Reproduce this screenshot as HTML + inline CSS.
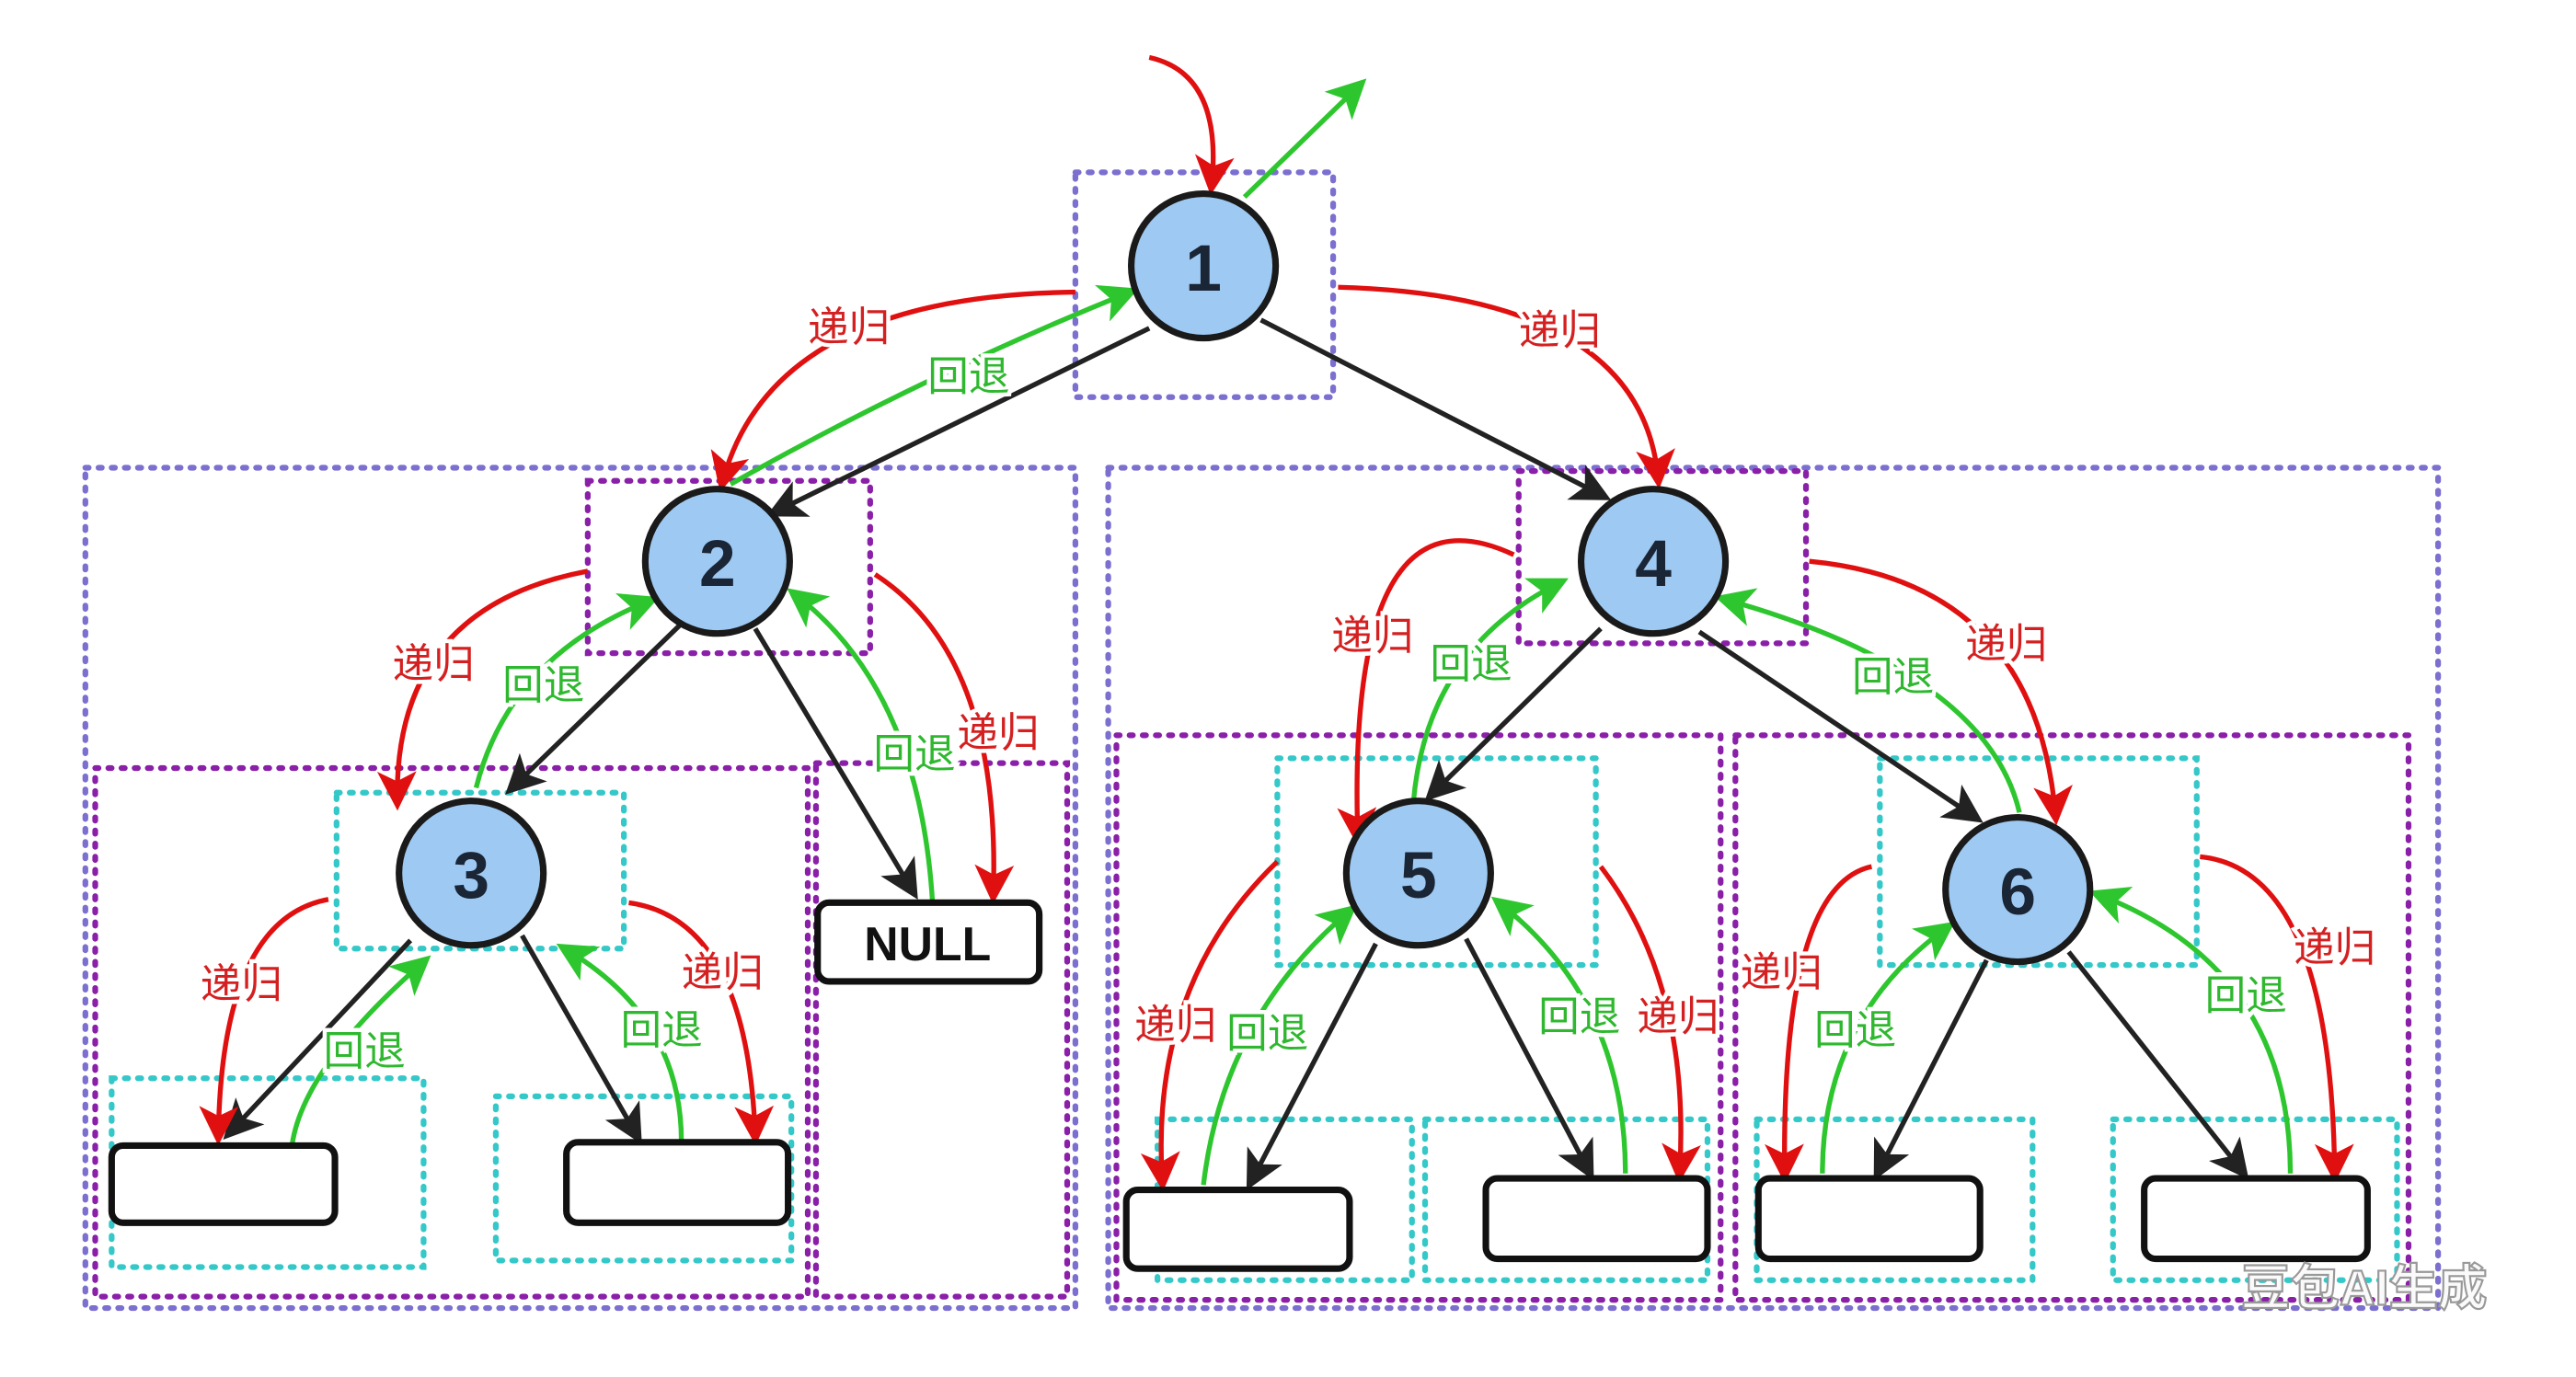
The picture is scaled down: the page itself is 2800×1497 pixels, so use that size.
<!DOCTYPE html>
<html><head><meta charset="utf-8"><style>
html,body{margin:0;padding:0;background:#fff;}
svg{display:block}
.lb{font-family:"Liberation Sans","Noto Sans CJK SC",sans-serif;font-size:25px;paint-order:stroke;stroke:#fff;stroke-width:5px;text-anchor:middle}
.r{fill:#d42020}.g{fill:#2fb82f}
.num{font-family:"Liberation Sans",sans-serif;font-weight:bold;font-size:40px;fill:#1a2535;text-anchor:middle}
</style></head><body>
<svg width="2800" height="1497" viewBox="0 0 1569 839" preserveAspectRatio="none" xmlns="http://www.w3.org/2000/svg">
<defs>
<marker id="ab" markerWidth="8" markerHeight="8" refX="6" refY="4" orient="auto" markerUnits="strokeWidth"><path d="M0,0 L8,4 L0,8 L2,4 z" fill="#222"/></marker>
<marker id="ar" markerWidth="8" markerHeight="8" refX="6" refY="4" orient="auto" markerUnits="strokeWidth"><path d="M0,0 L8,4 L0,8 L2,4 z" fill="#e01010"/></marker>
<marker id="ag" markerWidth="8" markerHeight="8" refX="6" refY="4" orient="auto" markerUnits="strokeWidth"><path d="M0,0 L8,4 L0,8 L2,4 z" fill="#2ec62e"/></marker>
</defs>
<g fill="none" stroke-width="3.5" stroke-dasharray="2 6" stroke-linecap="round">
<rect x="655" y="105" width="157" height="137" stroke="#7b6fd0"/>
<rect x="52" y="285" width="603" height="512" stroke="#7b6fd0"/>
<rect x="675" y="285" width="810" height="512" stroke="#7b6fd0"/>
<rect x="358" y="293" width="172" height="105" stroke="#8a1fa8"/>
<rect x="925" y="287" width="175" height="105" stroke="#8a1fa8"/>
<rect x="58" y="468" width="434" height="322" stroke="#8a1fa8"/>
<rect x="497" y="465" width="153" height="325" stroke="#8a1fa8"/>
<rect x="680" y="448" width="368" height="344" stroke="#8a1fa8"/>
<rect x="1057" y="448" width="410" height="344" stroke="#8a1fa8"/>
<g stroke="#35c8c8">
<rect x="205" y="483" width="175" height="95"/>
<rect x="68" y="657" width="190" height="115"/>
<rect x="302" y="668" width="180" height="100"/>
<rect x="778" y="462" width="194" height="126"/>
<rect x="1145" y="462" width="193" height="126"/>
<rect x="705" y="682" width="155" height="98"/>
<rect x="868" y="682" width="172" height="98"/>
<rect x="1070" y="682" width="168" height="98"/>
<rect x="1287" y="682" width="173" height="98"/>
</g></g>
<g stroke="#222" stroke-width="3" fill="none" marker-end="url(#ab)">
<path d="M700,200 L472,312"/><path d="M768,195 L976,302"/>
<path d="M415,380 L312,480"/><path d="M460,383 L556,543"/>
<path d="M250,573 L140,690"/><path d="M318,570 L388,692"/>
<path d="M975,383 L872,484"/><path d="M1035,385 L1203,498"/>
<path d="M838,575 L762,720"/><path d="M893,572 L968,714"/>
<path d="M1210,585 L1144,714"/><path d="M1260,580 L1366,714"/>
</g>
<g stroke="#e01010" stroke-width="3" fill="none" marker-end="url(#ar)">
<path d="M700,35 Q745,45 738,113"/>
<path d="M655,178 Q470,180 440,294"/>
<path d="M815,175 Q1000,180 1010,292"/>
<path d="M358,348 Q240,370 242,488"/>
<path d="M533,350 Q610,400 605,545"/>
<path d="M200,548 Q135,560 133,692"/>
<path d="M383,550 Q455,560 460,692"/>
<path d="M922,338 Q820,290 827,510"/>
<path d="M1102,342 Q1240,355 1252,497"/>
<path d="M778,525 Q700,600 708,720"/>
<path d="M975,528 Q1030,600 1023,715"/>
<path d="M1140,528 Q1085,540 1087,715"/>
<path d="M1340,522 Q1420,530 1422,715"/>
</g>
<g stroke="#2ec62e" stroke-width="3" fill="none" marker-end="url(#ag)">
<path d="M758,120 L828,52"/>
<path d="M445,295 Q560,230 688,178"/>
<path d="M290,480 Q310,400 396,366"/>
<path d="M568,550 Q560,420 484,362"/>
<path d="M178,697 Q185,650 258,586"/>
<path d="M415,695 Q415,620 344,578"/>
<path d="M860,510 Q860,400 950,355"/>
<path d="M1230,495 Q1210,410 1050,365"/>
<path d="M733,722 Q745,620 822,555"/>
<path d="M990,715 Q990,610 913,550"/>
<path d="M1110,715 Q1110,620 1186,565"/>
<path d="M1395,715 Q1395,590 1278,545"/>
</g>
<g fill="#9ec9f2" stroke="#1a1a1a" stroke-width="4">
<circle cx="733" cy="162" r="44"/><circle cx="437" cy="342" r="44"/>
<circle cx="1007" cy="342" r="44"/><circle cx="287" cy="532" r="44"/>
<circle cx="864" cy="532" r="44"/><circle cx="1229" cy="542" r="44"/>
</g>
<text class="num" x="733" y="177">1</text><text class="num" x="437" y="357">2</text>
<text class="num" x="1007" y="357">4</text><text class="num" x="287" y="547">3</text>
<text class="num" x="864" y="547">5</text><text class="num" x="1229" y="557">6</text>
<g fill="#fff" stroke="#111" stroke-width="4">
<rect x="498" y="550" width="135" height="48" rx="7"/>
<rect x="68" y="698" width="136" height="47" rx="7"/>
<rect x="345" y="696" width="135" height="49" rx="7"/>
<rect x="686" y="725" width="136" height="48" rx="7"/>
<rect x="905" y="718" width="135" height="49" rx="7"/>
<rect x="1071" y="718" width="135" height="49" rx="7"/>
<rect x="1306" y="718" width="136" height="49" rx="7"/>
</g>
<text x="565" y="585" font-family="Liberation Sans,sans-serif" font-weight="bold" font-size="29" text-anchor="middle" fill="#111">NULL</text>
<g class="lb">
<text class="r" x="517" y="208">递归</text><text class="g" x="590" y="238">回退</text>
<text class="r" x="950" y="210">递归</text>
<text class="r" x="264" y="413">递归</text><text class="g" x="331" y="426">回退</text>
<text class="g" x="557" y="468">回退</text><text class="r" x="608" y="455">递归</text>
<text class="r" x="147" y="608">递归</text><text class="g" x="222" y="649">回退</text>
<text class="r" x="440" y="601">递归</text><text class="g" x="403" y="636">回退</text>
<text class="r" x="836" y="396">递归</text><text class="g" x="896" y="413">回退</text>
<text class="r" x="1222" y="401">递归</text><text class="g" x="1153" y="421">回退</text>
<text class="r" x="716" y="633">递归</text><text class="g" x="772" y="638">回退</text>
<text class="g" x="962" y="628">回退</text><text class="r" x="1022" y="628">递归</text>
<text class="r" x="1085" y="601">递归</text><text class="g" x="1130" y="636">回退</text>
<text class="g" x="1368" y="615">回退</text><text class="r" x="1422" y="586">递归</text>
</g>
<text x="1440" y="795" font-family="Liberation Sans,Noto Sans CJK SC,sans-serif" font-weight="bold" font-size="30" text-anchor="middle" fill="#fafafa" stroke="#999" stroke-width="1.2">豆包AI生成</text>
</svg>
</body></html>
